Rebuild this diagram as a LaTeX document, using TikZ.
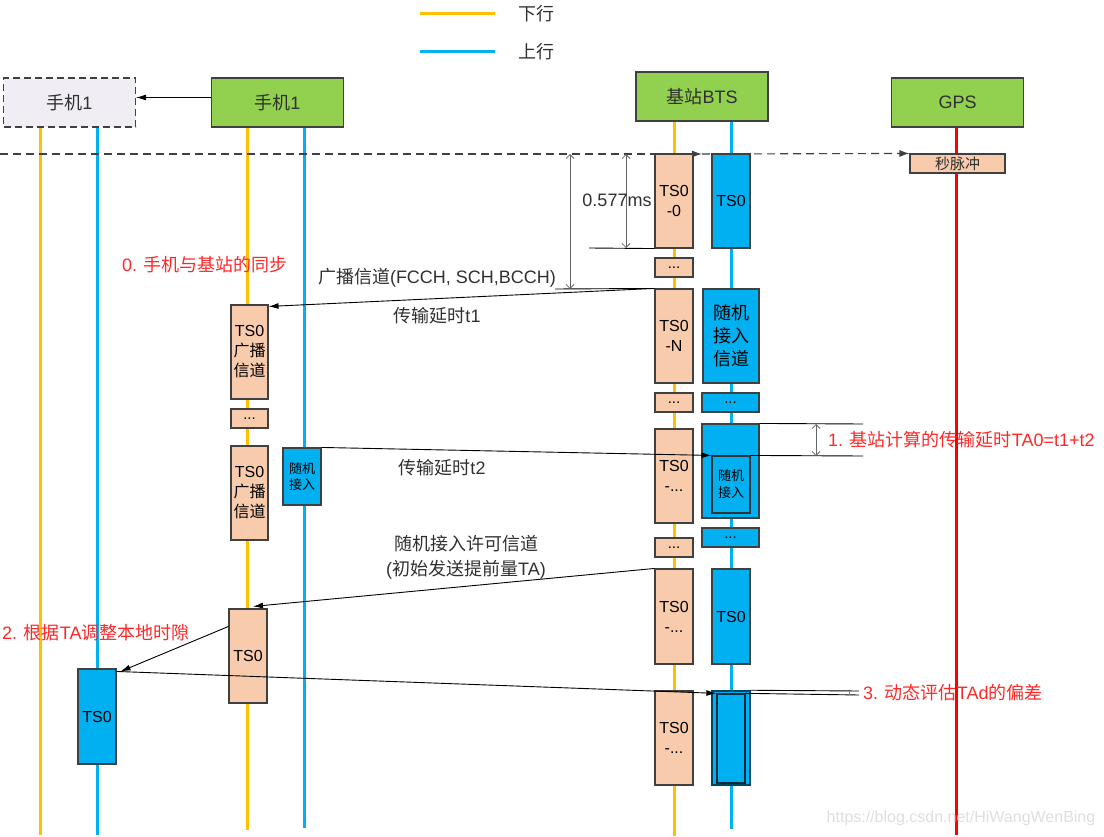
\documentclass[tikz,border=0pt]{standalone}
\usepackage{fontspec}
\setmainfont{Liberation Sans}
\newfontfamily\cjkfont{Noto Sans CJK SC}
\XeTeXinterchartokenstate=1
\newXeTeXintercharclass\CJKcls
\count255="4E00
\loop\XeTeXcharclass\count255=\CJKcls\ifnum\count255<"9FFF\advance\count255 by 1\repeat
\XeTeXinterchartoks 0 \CJKcls={\cjkfont}
\XeTeXinterchartoks 4095 \CJKcls={\cjkfont}
\XeTeXinterchartoks \CJKcls 0={\rmfamily}
\XeTeXinterchartoks \CJKcls 4095={\rmfamily}
\usetikzlibrary{arrows.meta}
\definecolor{lorange}{HTML}{FFC000}
\definecolor{lblue}{HTML}{00B0F0}
\definecolor{hgreen}{HTML}{92D050}
\definecolor{peach}{HTML}{F8CBAD}
\definecolor{bfill}{HTML}{00B0F0}
\definecolor{ghostfill}{HTML}{F0EEF4}
\definecolor{txt}{HTML}{303030}
\definecolor{redtxt}{HTML}{FF2828}
\definecolor{gpsred}{HTML}{FF0000}
\definecolor{bord}{HTML}{404040}
\tikzset{
  hdr/.style={draw=bord, line width=1.1pt, fill=hgreen, minimum width=132pt, minimum height=49pt, inner sep=0pt, font=\fontsize{18}{22}\selectfont, text=txt},
  life/.style={line width=3pt},
  pbox/.style={draw=bord, line width=1.1pt, fill=peach, minimum width=38pt, inner sep=0pt, align=center, font=\fontsize{16}{20}\selectfont, text=black},
  bbox/.style={draw=bord, line width=1.1pt, fill=bfill, minimum width=38pt, inner sep=0pt, align=center, font=\fontsize{16}{20}\selectfont, text=black},
  dotbox/.style={minimum height=19pt, font=\fontsize{15}{16}\selectfont},
  msg/.style={-{Latex[length=10pt,width=6pt]}, line width=0.9pt, black},
  thinl/.style={line width=0.9pt, black},
  dimline/.style={line width=0.8pt, black!60, {Straight Barb[length=4pt,width=8pt]}-{Straight Barb[length=4pt,width=8pt]}},
  syncl/.style={dash pattern=on 8pt off 5pt, line width=1.1pt, bord, -{Latex[length=10pt,width=7pt]}},
  lbl/.style={font=\fontsize{18}{25}\selectfont, text=txt, inner sep=0pt, align=center},
  redlbl/.style={font=\fontsize{18}{22}\selectfont, text=redtxt, inner sep=0pt, anchor=west},
}
\begin{document}
\begin{tikzpicture}[x=1pt,y=-1pt]
\useasboundingbox (0,0) rectangle (1104,837);

% legend
\draw[life,lorange] (420,14) -- (495,14);
\node[lbl] (lgd) at (536,14) {下行};
\draw[life,lblue] (420,52) -- (495,52);
\node[lbl] (lgu) at (536,52) {上行};

% headers
\node[hdr, fill=ghostfill, dash pattern=on 7pt off 4pt] (gh) at (69.5,102.5) {手机1};
\node[hdr] (ph) at (277.5,102.5) {手机1};
\node[hdr] (bts) at (702,96.5) {基站BTS};
\node[hdr] (gps) at (957.5,102.5) {GPS};

% lifeline ends
\coordinate (gO) at (40,835);
\coordinate (gB) at (97,835);
\coordinate (pO) at (247,830);
\coordinate (pB) at (304,828);
\coordinate (bO) at (674,836);
\coordinate (bB) at (731,829);
\coordinate (gR) at (956,835);
\draw[life,lorange] (gO |- gh.south) -- (gO);
\draw[life,lblue] (gB |- gh.south) -- (gB);
\draw[life,lorange] (pO |- ph.south) -- (pO);
\draw[life,lblue] (pB |- ph.south) -- (pB);
\draw[life,lorange] (bO |- bts.south) -- (bO);
\draw[life,lblue] (bB |- bts.south) -- (bB);
\draw[life,gpsred] (gR |- gps.south) -- (gR);

% header arrow
\draw[msg] ([yshift=5pt]ph.west) -- ([yshift=5pt]gh.east);

% BTS downlink column
\node[pbox, minimum height=94pt] (o1) at (674,201) {TS0\\-0};
\node[pbox, dotbox] (o2) at (674,267.5) {...};
\node[pbox, minimum height=94pt] (o3) at (674,336) {TS0\\-N};
\node[pbox, dotbox] (o4) at (674,402.5) {...};
\node[pbox, minimum height=94pt] (o5) at (674,476) {TS0\\-...};
\node[pbox, dotbox] (o6) at (674,547.5) {...};
\node[pbox, minimum height=95pt] (o7) at (674,616.5) {TS0\\-...};
\node[pbox, minimum height=94pt] (o8) at (674,738) {TS0\\-...};

% BTS uplink column
\node[bbox, minimum height=94pt] (u1) at (731,201) {TS0};
\node[bbox, minimum width=56pt, minimum height=94pt, font=\fontsize{18}{23}\selectfont] (u2) at (731,336) {随机\\接入\\信道};
\node[bbox, dotbox, minimum width=57pt] (u3) at (730.5,402.5) {...};
\node[bbox, minimum width=57pt, minimum height=94pt] (u4) at (730.5,471) {};
\node[bbox, draw=black!80, minimum height=57pt, font=\fontsize{13}{17}\selectfont] (u4i) at (731,484.5) {随机\\接入};
\node[bbox, dotbox, minimum width=57pt] (u5) at (730.5,537.5) {...};
\node[bbox, minimum height=95pt] (u6) at (731,616.5) {TS0};
\node[bbox, draw=black!60!bfill, line width=1.5pt, minimum height=94pt] (u7) at (731,738) {};
\node[bbox, draw=black!75!bfill, line width=1.3pt, minimum width=28pt, minimum height=89pt] (u7i) at (731,738.5) {};

% GPS pulse
\node[pbox, minimum width=95pt, minimum height=19pt, font=\fontsize{15}{18}\selectfont, text=txt] (pps) at (957.5,163.5) {秒脉冲};

% phone boxes
\node[pbox, minimum width=37pt, minimum height=94pt] (p1) at (249.5,352) {TS0\\广播\\信道};
\node[pbox, dotbox, minimum width=37pt] (p2) at (249.5,418.5) {...};
\node[pbox, minimum width=37pt, minimum height=94pt] (p3) at (249.5,493) {TS0\\广播\\信道};
\node[pbox, minimum width=38pt, minimum height=94pt] (p4) at (248,656) {TS0};
\node[bbox, minimum height=57pt, font=\fontsize{13}{16}\selectfont] (pr) at (302,476.5) {随机\\接入};
\node[bbox, minimum height=95pt] (g1) at (97,716.5) {TS0};

% sync dashed line
\coordinate (s0) at (0,154);
\coordinate (s1) at (702,154);
\draw[syncl] (s0) -- (s1);
\draw[syncl] (s1) -- (pps.north west);

% 0.577ms dimension
\coordinate (d1t) at (626,154);
\coordinate (d1b) at (626,248);
\coordinate (h1) at (589,248);
\draw[thinl] (h1) -- (o1.south west);
\draw[dimline] (d1t) -- (d1b);
\coordinate (d2t) at (570,154);
\coordinate (d2b) at (570,289);
\coordinate (h2) at (555,289);
\draw[thinl] (h2) -- (o3.north west);
\draw[dimline] (d2t) -- (d2b);
\node[lbl] (ms) at (617,200) {0.577ms};

% broadcast
\draw[msg] (o3.north west) -- ([yshift=-2pt]p1.north east);
\node[lbl] (lb1) at (437,278) {广播信道(FCCH, SCH,BCCH)};
\node[lbl] (lb2) at (437,316) {传输延时t1};
\node[redlbl] (r0) at (122,265) {0. 手机与基站的同步};

% random access
\draw[msg] (pr.north east) -- (u4i.north west);
\node[lbl] (lb3) at (442,468) {传输延时t2};
\coordinate (e1) at (863,424);
\coordinate (e2) at (863,456);
\draw[thinl] (u4.north east) -- (e1);
\draw[thinl] (u4i.north east) -- (e2);
\coordinate (v1) at (816,424);
\coordinate (v2) at (816,456);
\draw[dimline] (v1) -- (v2);
\node[redlbl] (r1) at (828,440) {1. 基站计算的传输延时TA0=t1+t2};

% grant
\draw[msg] (o7.north west) -- ([xshift=5pt,yshift=2pt]p4.north);
\node[lbl] (lb4) at (466,557) {随机接入许可信道\\(初始发送提前量TA)};
\draw[msg] ([yshift=-18pt]p4.north west) -- ([xshift=4pt,yshift=-3pt]g1.north east);
\node[redlbl] (r2) at (2,633) {2. 根据TA调整本地时隙};

% uplink with TA
\draw[msg] ([yshift=-3pt]g1.north east) -- (u7i.north west);
\coordinate (f1) at (859,691);
\coordinate (f2) at (859,695);
\draw[thinl] (u7.north east) -- (f1);
\draw[thinl] (u7i.north east) -- (f2);
\coordinate (k1) at (849,691);
\coordinate (k2) at (849,695);
\draw[line width=0.6pt, black!50] (k1) -- (k2);
\node[redlbl] (r3) at (863,693) {3. 动态评估TAd的偏差};

% watermark
\node[font=\fontsize{16}{19}\selectfont, text=black!13, inner sep=0pt] (wm) at (961,818) {https://blog.csdn.net/HiWangWenBing};
\end{tikzpicture}
\end{document}
